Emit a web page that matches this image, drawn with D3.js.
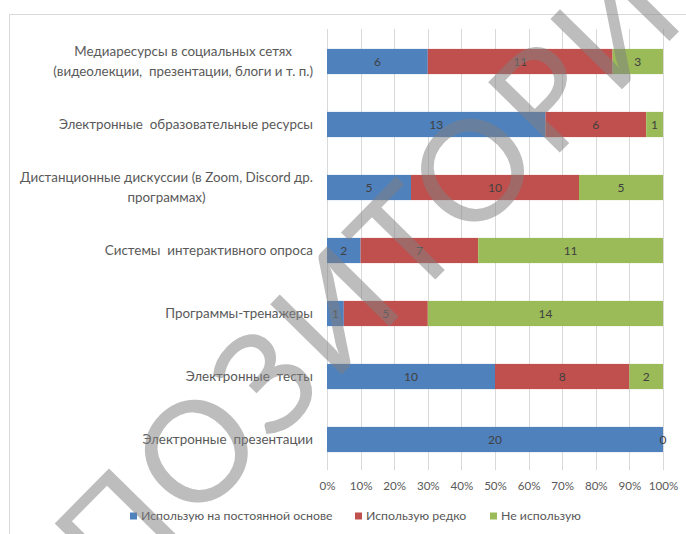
<!DOCTYPE html>
<html><head><meta charset="utf-8">
<script src="https://cdn.jsdelivr.net/npm/d3@7"></script>
<style>
html,body{margin:0;padding:0;background:#fff;}
svg{display:block;}
text{font-family:Lato,"Open Sans",sans-serif;}
</style></head>
<body>
<svg id="chart" width="686" height="534"></svg>
<script>
const categories = [
  "Медиаресурсы в социальных сетях\n(видеолекции,  презентации, блоги и т. п.)",
  "Электронные  образовательные ресурсы",
  "Дистанционные дискуссии (в Zoom, Discord др.\nпрограммах)",
  "Системы  интерактивного опроса",
  "Программы-тренажеры",
  "Электронные  тесты",
  "Электронные  презентации"
];
const seriesNames = ["Использую на постоянной основе", "Использую редко", "Не использую"];
const constantUse = [6, 13, 5, 2, 1, 10, 20];
const rareUse = [11, 6, 10, 7, 5, 8, 0];
const noUse = [3, 1, 5, 11, 14, 2, 0];
const tickValues = [0, 0.1, 0.2, 0.3, 0.4, 0.5, 0.6, 0.7, 0.8, 0.9, 1];
const colors = ["#4F81BD", "#C0504D", "#9BBB59"];
const watermark = "РЕПОЗИТОРИЙ";

const svg = d3.select("#chart");

// chart area border
svg.append("rect").attr("x", 9.5).attr("y", 14.5).attr("width", 720).attr("height", 560)
  .attr("fill", "#fff").attr("stroke", "#d9d9d9");

const rows = categories.map((c, i) => ({
  cat: c,
  [seriesNames[0]]: constantUse[i],
  [seriesNames[1]]: rareUse[i],
  [seriesNames[2]]: noUse[i]
}));
const stacked = d3.stack().keys(seriesNames).offset(d3.stackOffsetExpand)(rows);

const x = d3.scaleLinear().domain([0, 1]).range([327, 663]);
const y = d3.scaleBand().domain(categories).range([30, 471]).paddingInner(0.6).paddingOuter(0.3);

// gridlines
svg.append("g").selectAll("line").data(tickValues).join("line")
  .attr("x1", d => Math.round(x(d)) + 0.5).attr("x2", d => Math.round(x(d)) + 0.5)
  .attr("y1", 29).attr("y2", 470)
  .attr("stroke", "#d9d9d9").attr("stroke-width", 1);

// x axis
const xAxis = svg.append("g").attr("transform", "translate(0,470)")
  .call(d3.axisBottom(x).tickValues(tickValues).tickFormat(d3.format(".0%")).tickSize(0).tickPadding(12));
xAxis.select(".domain").remove();
xAxis.selectAll("text").attr("fill", "#595959").attr("font-size", 11.6).attr("font-family", "Lato");

// bars
const layers = svg.append("g").selectAll("g").data(stacked).join("g")
  .attr("fill", (d, i) => colors[i]);
layers.selectAll("rect").data(d => d).join("rect")
  .attr("x", d => x(d[0]))
  .attr("width", d => x(d[1]) - x(d[0]))
  .attr("y", d => y(d.data.cat))
  .attr("height", y.bandwidth());

// data labels
stacked.forEach((layer, si) => {
  svg.append("g").selectAll("text")
    .data(layer.filter(d => d.data[layer.key] > 0 || si === stacked.length - 1))
    .join("text")
    .attr("x", d => x((d[0] + d[1]) / 2))
    .attr("y", d => y(d.data.cat) + y.bandwidth() / 2)
    .attr("dy", "0.35em")
    .attr("text-anchor", "middle")
    .attr("font-size", 12)
    .attr("fill", "#404040")
    .text(d => d.data[layer.key]);
});

// category labels
const catG = svg.append("g");
categories.forEach(c => {
  const lines = c.split("\n");
  const cy = y(c) + y.bandwidth() / 2;
  const t = catG.append("text")
    .attr("font-size", 13.4)
    .attr("fill", "#595959")
    .style("white-space", "pre");
  lines.forEach((ln, i) => {
    t.append("tspan").attr("x", 0)
      .attr("y", cy + (i - (lines.length - 1) / 2) * 19.5)
      .attr("dy", "0.35em")
      .attr("text-anchor", "middle")
      .text(ln);
  });
  const w = t.node().getBBox().width;
  t.selectAll("tspan").attr("x", 313 - w / 2);
});

// legend
const legendX = [130, 355, 490];
const legend = svg.append("g").selectAll("g").data(seriesNames).join("g")
  .attr("transform", (d, i) => `translate(${legendX[i]},516)`);
legend.append("rect").attr("x", 0).attr("y", -3.5).attr("width", 7).attr("height", 7)
  .attr("fill", (d, i) => colors[i]);
legend.append("text").attr("x", 11).attr("dy", "0.35em")
  .attr("font-size", 12.3).attr("fill", "#595959").text(d => d);

// watermark
svg.append("g").attr("transform", "translate(345,300) rotate(-45.5)")
  .append("text")
  .attr("text-anchor", "middle")
  .attr("y", 50)
  .attr("font-family", "Liberation Sans")
  .attr("font-size", 140)
  .attr("textLength", 1100)
  .attr("lengthAdjust", "spacing")
  .attr("fill", "#808080")
  .attr("fill-opacity", 0.52)
  .text(watermark);
</script>
</body></html>
